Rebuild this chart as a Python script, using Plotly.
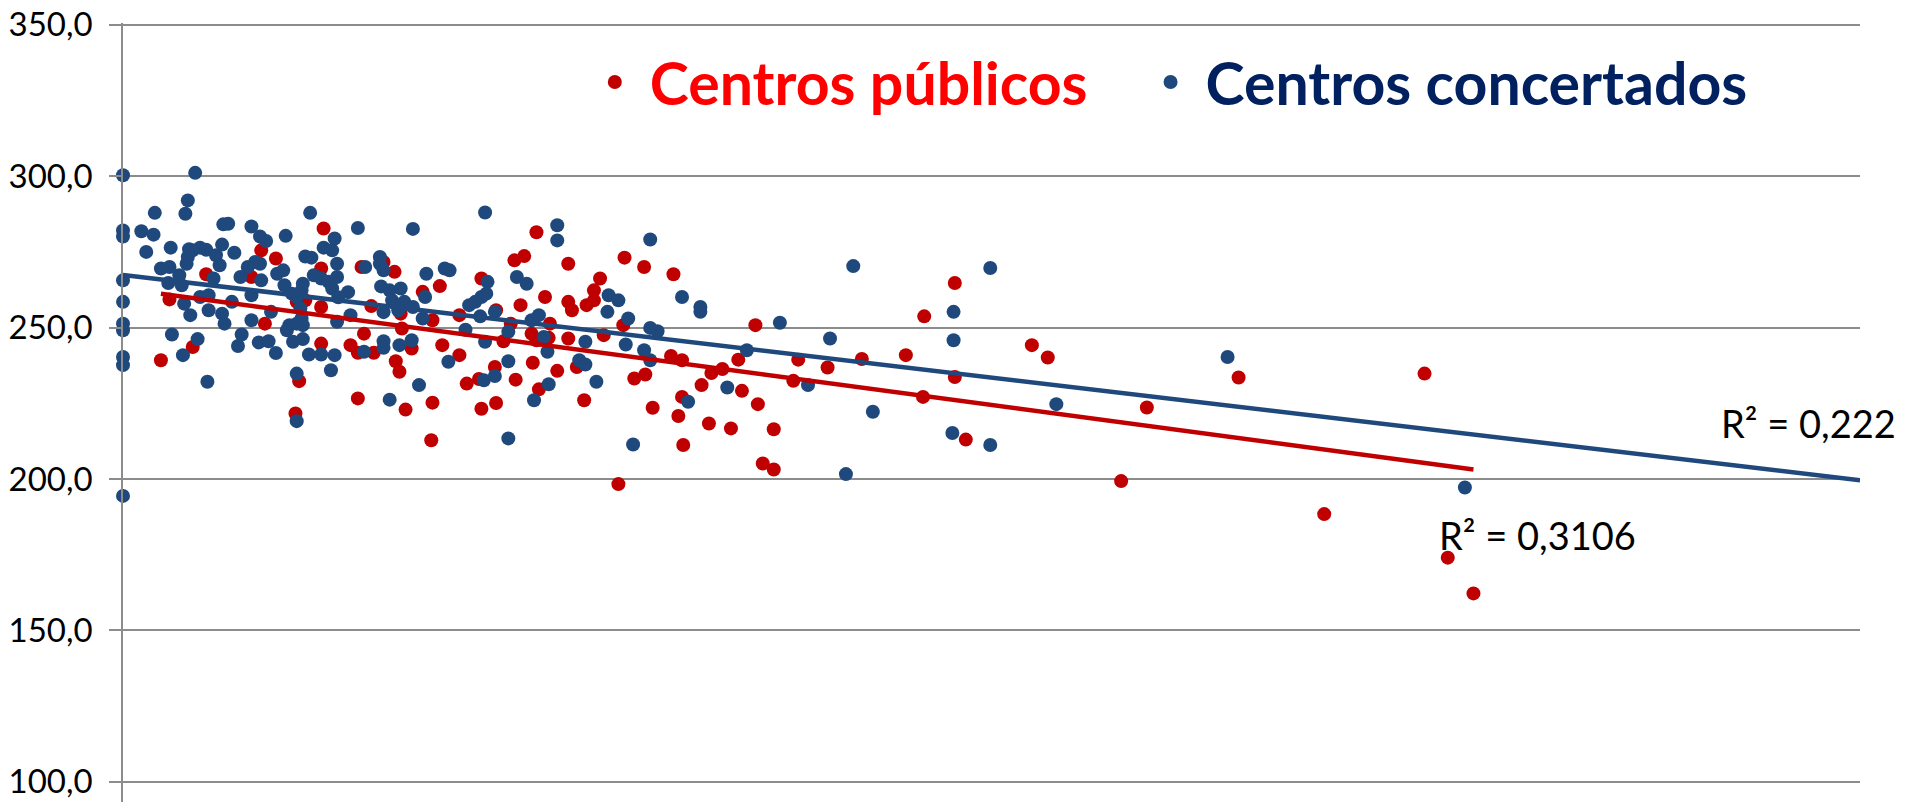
import numpy as np
import plotly.graph_objects as go

# Centros públicos (red)
pub_x = [16.4, 11.3, 12.5, 6.8, 10.5, 16.2, 3.8, 11.6, 14.2, 14.9, 16.2,
         19.5, 22.2, 21.3, 20.3, 22.7, 24.5, 25.9, 25.3, 27.5, 29.3, 30.5, 31.7, 32.0,
         32.8, 32.5, 33.8, 34.5, 34.9, 36.4, 36.4, 36.7, 37.9, 38.5, 39.0, 38.5, 41.0,
         40.9, 22.8,
         3.1, 5.7, 14.4, 14.1, 16.2, 18.6, 19.2, 19.7, 20.5, 22.3, 22.6, 23.6, 19.2,
         23.1, 25.3, 25.2, 26.1, 29.3, 30.5, 37.7, 40.5,
         27.5, 28.1, 29.1, 30.4, 31.1, 32.1, 33.4, 33.5, 33.8, 34.0, 34.8, 35.5, 36.4,
         37.1, 39.3, 41.8, 42.7, 43.3, 44.8, 45.7, 45.4, 45.7, 45.8, 47.3, 47.9, 48.1,
         49.0, 49.7, 50.3, 50.6, 51.9, 52.3, 53.2, 53.2, 51.7,
         42.6, 45.0, 65.5, 68.0, 74.3, 75.6, 91.2, 55.2, 54.8, 57.6, 60.4, 64.0, 68.0,
         65.4, 68.9, 81.6, 83.7, 106.4, 98.2, 108.3, 110.4]
pub_y = [282.7, 275.5, 272.8, 267.6, 266.7, 269.5, 259.3, 251.3, 258.5, 259.0, 256.8,
         270.0, 268.4, 271.7, 257.1, 254.6, 261.8, 263.7, 252.4, 254.1, 266.2, 255.7, 251.3, 272.2,
         273.6, 257.4, 281.5, 260.1, 251.3, 271.1, 258.5, 255.7, 257.4, 259.0, 266.2, 262.3, 273.1,
         250.8, 249.7,
         239.2, 243.6, 232.3, 221.6, 244.7, 244.2, 241.7, 248.0, 241.7, 238.9, 235.4, 243.1, 226.6,
         222.9, 225.2, 212.8, 244.2, 223.2, 225.1, 226.0, 198.3,
         240.9, 231.5, 233.0, 237.0, 245.5, 232.8, 248.0, 238.4, 245.8, 229.6, 246.6, 235.7, 246.4,
         237.0, 247.5, 233.2, 234.5, 223.5, 240.6, 239.2, 220.8, 227.1, 211.2, 231.0, 218.3, 235.0,
         236.3, 216.7, 239.4, 229.1, 224.7, 205.1, 203.1, 216.4, 250.8,
         270.0, 267.6, 253.7, 264.7, 244.2, 240.1, 233.5, 239.4, 232.4, 236.8, 239.6, 240.9, 233.7,
         227.1, 213.0, 199.3, 223.6, 234.8, 188.4, 174.0, 162.2]

# Centros concertados (blue)
conc_x = [0, 5.9, 5.3, 5.1, 2.6, 15.3, 0, 0, 1.5, 2.5, 1.9, 3.9, 5.4, 5.7, 6.3, 6.8,
          8.2, 8.6, 8.1, 9.1, 7.6, 7.9, 7.4, 10.5, 11.2, 11.7, 13.3, 14.9, 15.4, 16.4, 17.1,
          3.1, 3.8, 3.7, 4.6, 5.2, 5.3, 4.8, 0, 0, 0, 5.0, 5.5, 6.3, 7.0, 7.0, 8.1, 8.3,
          8.9, 9.6, 10.2, 10.8, 11.2, 11.3, 10.5, 10.5, 12.1, 12.6, 13.1, 13.2, 13.8, 14.2,
          14.6, 14.7, 15.6, 16.2, 16.8, 17.1, 14.5, 14.6, 14.7, 13.6, 14.2, 17.3, 17.5, 17.5,
          17.5,
          19.2, 23.7, 29.6, 35.5, 35.5, 19.8, 21.0, 21.0, 21.3, 21.1, 21.8, 22.7, 22.0, 23.0,
          23.7, 21.3, 22.5, 24.8, 24.7, 26.3, 26.7, 24.5, 28.3, 28.8, 29.3, 29.7, 29.8, 30.4,
          29.2, 32.2, 33.0, 33.4, 34.0, 39.7, 40.5, 39.6, 41.3, 18.4, 17.6, 18.6,
          0, 0, 0, 0, 4.0, 6.1, 4.9, 6.9, 9.7, 9.4, 11.1, 11.9, 12.5, 13.4, 13.9, 14.7, 14.2,
          14.2, 15.2, 16.2, 17.3, 17.0, 19.7, 21.3, 21.3, 22.6, 23.6, 24.2, 21.8, 26.6, 28.0,
          29.6, 29.5, 30.4, 31.5, 31.5, 34.4, 34.7, 34.8, 33.6, 31.5, 37.8, 37.3, 37.8, 38.7,
          41.1, 42.6, 43.1, 43.1, 43.7, 41.7, 46.2, 49.4, 51.0,
          43.1, 45.7, 47.2, 47.2, 53.7, 59.7, 70.9, 57.8, 56.0, 67.9, 67.9, 90.3, 61.3, 59.1,
          67.8, 70.9, 76.3, 109.7]
conc_y = [300.3, 301.1, 292.0, 287.6, 287.9, 287.9, 282.1, 280.1, 281.8, 280.7, 275.0, 276.4,
          275.9, 275.5, 276.4, 275.7, 284.1, 284.3, 277.4, 274.7, 273.9, 270.6, 266.2, 283.4,
          280.1, 278.6, 280.3, 273.5, 273.1, 276.4, 275.5,
          269.5, 270.0, 264.7, 267.3, 271.1, 273.3, 264.0, 265.6, 258.5, 251.3, 257.9, 254.1,
          260.1, 260.7, 255.7, 254.6, 251.3, 258.5, 266.7, 270.0, 271.7, 271.1, 265.6, 260.7,
          252.4, 255.2, 267.8, 268.9, 264.0, 261.2, 260.1, 262.3, 264.5, 267.3, 266.2, 265.1,
          262.9, 256.3, 253.0, 250.8, 250.8, 251.3, 279.4, 271.1, 266.7, 251.9,
          282.9, 282.6, 288.0, 283.8, 278.8, 270.0, 273.3, 271.1, 268.9, 263.6, 262.3, 262.9,
          259.0, 258.5, 256.8, 255.1, 255.7, 267.8, 260.1, 269.5, 268.9, 253.0, 257.4, 258.5,
          260.1, 261.2, 265.1, 255.2, 253.7, 266.7, 264.5, 252.4, 254.1, 260.7, 259.0, 255.2,
          253.0, 261.7, 260.0, 254.1,
          249.1, 240.3, 237.6, 194.4, 247.7, 246.2, 240.9, 232.1, 247.7, 243.9, 245.1, 245.5,
          241.6, 249.1, 245.3, 246.2, 234.8, 219.1, 241.1, 241.1, 240.9, 235.9, 242.0, 245.5,
          243.3, 244.2, 245.8, 231.0, 226.2, 238.7, 249.3, 245.3, 232.6, 234.0, 248.6, 238.9,
          246.9, 242.0, 231.3, 226.0, 213.4, 245.3, 239.2, 237.8, 232.1, 244.4, 242.5, 239.2,
          249.9, 248.8, 211.4, 225.5, 230.2, 242.5,
          279.1, 260.1, 256.8, 255.2, 251.6, 270.3, 269.7, 246.4, 231.0, 255.2, 245.8, 240.3,
          222.2, 201.6, 215.2, 211.2, 224.7, 197.2]

y_ticks = [100, 150, 200, 250, 300, 350]
x_max = 142.0
r2_labels = ["R² = 0,3106", "R² = 0,222"]

RED = "#C00000"
BLUE = "#1F497D"

# linear trend lines (least squares), like Excel's trendline
pub_fit = np.polyfit(pub_x, pub_y, 1)
conc_fit = np.polyfit(conc_x, conc_y, 1)
pub_tx = np.array([min(pub_x), max(pub_x)])
conc_tx = np.array([0, x_max])

fig = go.Figure()

fig.add_trace(go.Scatter(
    x=pub_x, y=pub_y, mode="markers", cliponaxis=False,
    name='<span style="color:#FF0000">Centros públicos</span>' + "\u00a0" * 3,
    marker=dict(color=RED, size=14)))
fig.add_trace(go.Scatter(
    x=conc_x, y=conc_y, mode="markers", cliponaxis=False,
    name='<span style="color:#002060">Centros concertados</span>',
    marker=dict(color=BLUE, size=14)))

fig.add_trace(go.Scatter(x=pub_tx, y=np.polyval(pub_fit, pub_tx), mode="lines",
                         line=dict(color=RED, width=4.5), showlegend=False, hoverinfo="skip"))
fig.add_trace(go.Scatter(x=conc_tx, y=np.polyval(conc_fit, conc_tx), mode="lines",
                         line=dict(color=BLUE, width=4.5), showlegend=False, hoverinfo="skip"))

fig.add_annotation(x=107.4, y=181.5, text=r2_labels[0], showarrow=False,
                   xanchor="left", yanchor="middle",
                   font=dict(family="Lato", size=38, color="#000000"))
fig.add_annotation(x=130.5, y=218.4, text=r2_labels[1], showarrow=False,
                   xanchor="left", yanchor="middle",
                   font=dict(family="Lato", size=38, color="#000000"))

# the page body adds an 8 px offset, so the figure is 8 px smaller each way
fig.update_layout(
    width=1907, height=794,
    margin=dict(l=115, r=55, t=14.5, b=0),
    paper_bgcolor="white", plot_bgcolor="white",
    separators=",.",
    font=dict(family="Lato", color="#000000"),
    legend=dict(orientation="h", xref="paper", yref="paper",
                x=0.263, y=0.924, xanchor="left", yanchor="middle",
                itemwidth=60,
                font=dict(family="Lato", size=59, weight="bold"),
                bgcolor="rgba(0,0,0,0)"),
    xaxis=dict(range=[0, x_max], showgrid=False, zeroline=False, automargin=False,
               showticklabels=False, showline=False, ticks=""),
    yaxis=dict(range=[93.3, 350.6], tickvals=y_ticks, tickformat=".1f", automargin=False,
               showgrid=True, gridcolor="#8C8C8C", gridwidth=1.5,
               zeroline=False, showline=True, linecolor="#8C8C8C", linewidth=1.5,
               ticks="outside", ticklen=12, tickcolor="#8C8C8C", tickwidth=1.5,
               ticklabelstandoff=10, ticklabeloverflow="allow",
               tickfont=dict(family="Lato", size=33, color="#000000")),
)

fig.write_html("out.html")
